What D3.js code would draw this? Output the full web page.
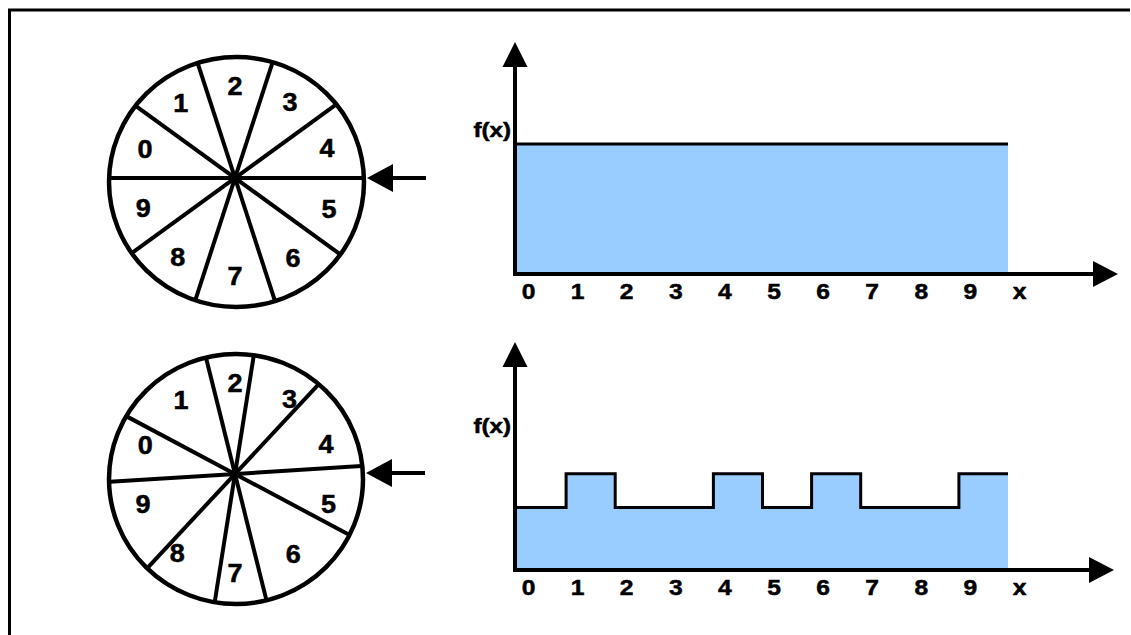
<!DOCTYPE html>
<html><head><meta charset="utf-8">
<script src="https://cdn.jsdelivr.net/npm/d3@7"></script>
<style>body{margin:0;background:#fff}svg{display:block}text{stroke:#000;stroke-width:0.5px}</style>
</head><body><svg id="c" width="1131" height="635"></svg>
<script>
// ---- data ----
const digits = [0,1,2,3,4,5,6,7,8,9];
const tickLabels = ["0","1","2","3","4","5","6","7","8","9","x"];
const yAxisLabel = "f(x)";
// angles (deg, counter-clockwise from the right) of the five diameters that split each wheel
const wheelTopDiameters = [0, 36, 72, 108, 144];
const wheelBottomDiameters = [3.6, 47, 81, 104, 152];
// f(x) for each digit
const fTop = [0.1,0.1,0.1,0.1,0.1,0.1,0.1,0.1,0.1,0.1];
const fBottom = [0.048,0.074,0.048,0.048,0.074,0.048,0.074,0.048,0.048,0.074];

const svg = d3.select("#c");
const FONT = "'Liberation Sans', Arial, sans-serif";

// frame
svg.append("path").attr("d","M9.5,635 L9.5,10 L1130,10")
  .attr("fill","none").attr("stroke","#000").attr("stroke-width",3);

function ellipseDist(w, ang){
  const dx = Math.cos(ang), dy = -Math.sin(ang);
  const ox = w.hub[0]-w.c[0], oy = w.hub[1]-w.c[1];
  const a = dx*dx/(w.rx*w.rx) + dy*dy/(w.ry*w.ry);
  const b = 2*(ox*dx/(w.rx*w.rx) + oy*dy/(w.ry*w.ry));
  const c = ox*ox/(w.rx*w.rx) + oy*oy/(w.ry*w.ry) - 1;
  return (-b + Math.sqrt(b*b-4*a*c))/(2*a);
}
function pt(w, ang, t){ return [w.hub[0]+t*Math.cos(ang), w.hub[1]-t*Math.sin(ang)]; }

function drawWheel(w, diameters){
  const g = svg.append("g");
  g.append("ellipse").attr("cx",w.c[0]).attr("cy",w.c[1]).attr("rx",w.rx).attr("ry",w.ry)
    .attr("fill","#fff").attr("stroke","#000").attr("stroke-width",4.5);
  const rad = d3.scaleLinear().domain([0,180]).range([0,Math.PI]);
  diameters.forEach((deg,i)=>{
    const a1 = rad(deg), a2 = rad(deg+180);
    const p1 = pt(w,a1,ellipseDist(w,a1)-1), p2 = pt(w,a2,ellipseDist(w,a2)-1);
    g.append("line").attr("x1",p1[0]).attr("y1",p1[1]).attr("x2",p2[0]).attr("y2",p2[1])
      .attr("stroke","#000").attr("stroke-width",4);
    if(i===1 || i===4){
      [a1,a2].forEach(a=>{
        const p = pt(w,a,ellipseDist(w,a));
        const px = -Math.sin(a)*4, py = -Math.cos(a)*4;
        g.append("line").attr("x1",p[0]+px).attr("y1",p[1]+py).attr("x2",p[0]-px).attr("y2",p[1]-py)
          .attr("stroke","#000").attr("stroke-width",2.5);
      });
    }
  });
  digits.forEach(d=>{
    const deg = 18 + 36*(4-d);
    const a = rad(deg);
    const p = pt(w,a,ellipseDist(w,a)*0.76);
    g.append("text").attr("transform",`translate(${p[0]},${p[1]}) scale(1.08,1)`).attr("dy","0.36em")
      .attr("text-anchor","middle").attr("font-family",FONT).attr("font-weight","bold")
      .attr("font-size",25).text(d);
  });
  // pointer arrow
  const ax = w.c[0]+w.rx+3, ay = w.arrowY;
  g.append("line").attr("x1",ax+24).attr("y1",ay).attr("x2",ax+59).attr("y2",ay)
    .attr("stroke","#000").attr("stroke-width",4);
  g.append("path").attr("d",`M${ax},${ay} L${ax+26},${ay-14} L${ax+26},${ay+14} Z`).attr("fill","#000");
}

drawWheel({hub:[235,178], c:[236.5,182], rx:127.5, ry:125, arrowY:178}, wheelTopDiameters);
drawWheel({hub:[235,474], c:[236,479], rx:127, ry:125, arrowY:473}, wheelBottomDiameters);

function drawChart(values, baseY, yTop, xTip){
  const g = svg.append("g");
  const x = d3.scaleLinear().domain([0,10]).range([517,1008]);
  const y = d3.scaleLinear().domain([0,0.1]).range([baseY, baseY-130]);
  const pts = digits.map(d=>[d, values[d]]).concat([[10, values[9]]]);
  g.append("path").datum(pts)
    .attr("d", d3.area().x(p=>x(p[0])).y0(baseY).y1(p=>y(p[1])).curve(d3.curveStepAfter))
    .attr("fill","#99CCFF");
  g.append("path").datum(pts)
    .attr("d", d3.line().x(p=>x(p[0])).y(p=>y(p[1])).curve(d3.curveStepAfter))
    .attr("fill","none").attr("stroke","#000").attr("stroke-width",3);
  // axes with arrowheads
  g.append("line").attr("x1",515).attr("y1",baseY+2).attr("x2",515).attr("y2",yTop+22)
    .attr("stroke","#000").attr("stroke-width",4);
  g.append("path").attr("d",`M515,${yTop} L502.5,${yTop+25} L527.5,${yTop+25} Z`).attr("fill","#000");
  g.append("line").attr("x1",513).attr("y1",baseY).attr("x2",xTip-22).attr("y2",baseY)
    .attr("stroke","#000").attr("stroke-width",4);
  g.append("path").attr("d",`M${xTip},${baseY} L${xTip-25},${baseY-13} L${xTip-25},${baseY+13} Z`).attr("fill","#000");
  // tick labels
  const tickX = d3.scaleLinear().domain([0,10]).range([x(0)+11, x(10)+11]);
  const ax = g.append("g").attr("transform",`translate(0,${baseY})`)
    .call(d3.axisBottom(tickX).tickValues(d3.range(11)).tickSize(0).tickPadding(9)
      .tickFormat(i=>tickLabels[i]));
  ax.select(".domain").remove();
  ax.selectAll("text").attr("font-family",FONT).attr("font-weight","bold").attr("font-size",22)
    .attr("fill","#000").attr("transform","scale(1.12,1)");
  g.append("text").attr("transform",`translate(511,${y(0.1)-7}) scale(1.15,1)`).attr("text-anchor","end")
    .attr("font-family",FONT).attr("font-weight","bold").attr("font-size",21).text(yAxisLabel);
}

drawChart(fTop, 274, 42, 1118);
drawChart(fBottom, 570, 342, 1114);
</script></body></html>
